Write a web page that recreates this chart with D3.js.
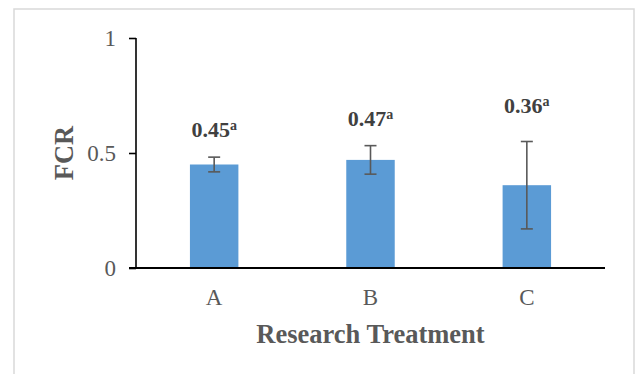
<!DOCTYPE html>
<html>
<head>
<meta charset="utf-8">
<script src="https://cdn.jsdelivr.net/npm/d3@7"></script>
<style>
  html, body { margin: 0; padding: 0; background: #fff; }
  svg { display: block; }
</style>
</head>
<body>
<svg id="chart" width="636" height="374"></svg>
<script>
// Feed conversion ratio by research treatment
const treatments = ["A", "B", "C"];
const fcrMeans = [0.45, 0.47, 0.36];
const fcrErrors = [0.032, 0.062, 0.19];
const significance = ["a", "a", "a"];
const yTicks = [0, 0.5, 1];
const yTickLabels = ["0", "0.5", "1"];

const svg = d3.select("#chart");
const serif = "'Liberation Serif', 'Times New Roman', serif";
const textGrey = "#595959";

// outer chart frame
svg.append("rect")
  .attr("x", 14).attr("y", 9)
  .attr("width", 620).attr("height", 380)
  .attr("fill", "#fff")
  .attr("stroke", "#d9d9d9").attr("stroke-width", 1.5);

const plot = { left: 136, right: 605, top: 38, bottom: 268 };

const x = d3.scaleBand()
  .domain(treatments)
  .range([plot.left, plot.right])
  .paddingInner(0.69)
  .paddingOuter(0.345);

const y = d3.scaleLinear()
  .domain([0, 1])
  .range([plot.bottom, plot.top]);

// bars
svg.append("g").selectAll("rect")
  .data(treatments)
  .join("rect")
  .attr("x", d => x(d))
  .attr("width", x.bandwidth())
  .attr("y", (d, i) => y(fcrMeans[i]))
  .attr("height", (d, i) => y(0) - y(fcrMeans[i]))
  .attr("fill", "#5b9bd5");

// error bars
const err = svg.append("g")
  .attr("stroke", "#595959")
  .attr("stroke-width", 1.6)
  .attr("fill", "none");
treatments.forEach((t, i) => {
  const cx = x(t) + x.bandwidth() / 2;
  const hi = y(fcrMeans[i] + fcrErrors[i]);
  const lo = y(fcrMeans[i] - fcrErrors[i]);
  err.append("line").attr("x1", cx).attr("x2", cx).attr("y1", hi).attr("y2", lo);
  err.append("line").attr("x1", cx - 6).attr("x2", cx + 6).attr("y1", hi).attr("y2", hi);
  err.append("line").attr("x1", cx - 6).attr("x2", cx + 6).attr("y1", lo).attr("y2", lo);
});

// y axis
const yAxis = d3.axisLeft(y)
  .tickValues(yTicks)
  .tickFormat((d, i) => yTickLabels[i])
  .tickSize(7)
  .tickPadding(13);
const gy = svg.append("g")
  .attr("transform", `translate(${plot.left},0)`)
  .call(yAxis);
gy.select(".domain").remove();
gy.append("line")
  .attr("x1", 0).attr("x2", 0)
  .attr("y1", plot.top).attr("y2", plot.bottom)
  .attr("stroke", "#000").attr("stroke-width", 1.6);
gy.selectAll(".tick line").attr("stroke", "#000").attr("stroke-width", 1.6);
gy.selectAll(".tick text")
  .attr("font-family", serif)
  .attr("font-size", 23)
  .attr("fill", textGrey)
  .attr("dy", "0.34em");

// x axis
const xAxis = d3.axisBottom(x).tickSize(0).tickPadding(21);
const gx = svg.append("g")
  .attr("transform", `translate(0,${plot.bottom})`)
  .call(xAxis);
gx.select(".domain").remove();
gx.append("line")
  .attr("x1", plot.left - 7).attr("x2", plot.right)
  .attr("y1", 0).attr("y2", 0)
  .attr("stroke", "#000").attr("stroke-width", 1.8);
gx.selectAll(".tick text")
  .attr("font-family", serif)
  .attr("font-size", 23)
  .attr("fill", textGrey);

// value labels with significance letters
const labels = svg.append("g");
treatments.forEach((t, i) => {
  const cx = x(t) + x.bandwidth() / 2;
  const top = y(fcrMeans[i] + fcrErrors[i]);
  const tx = labels.append("text")
    .attr("x", cx)
    .attr("y", top - 20 - (i === 2 ? 9 : 0))
    .attr("text-anchor", "middle")
    .attr("font-family", serif)
    .attr("font-weight", "bold")
    .attr("font-size", 22)
    .attr("fill", "#404040");
  tx.append("tspan").text(fcrMeans[i].toFixed(2));
  tx.append("tspan")
    .attr("font-size", 14)
    .attr("dy", -7)
    .text(significance[i]);
});

// axis titles
svg.append("text")
  .attr("x", (plot.left + plot.right) / 2)
  .attr("y", 343)
  .attr("text-anchor", "middle")
  .attr("font-family", serif)
  .attr("font-weight", "bold")
  .attr("font-size", 26.5)
  .attr("fill", textGrey)
  .text("Research Treatment");

svg.append("text")
  .attr("transform", `translate(73,153) rotate(-90)`)
  .attr("text-anchor", "middle")
  .attr("font-family", serif)
  .attr("font-weight", "bold")
  .attr("font-size", 26.5)
  .attr("fill", textGrey)
  .text("FCR");
</script>
</body>
</html>
